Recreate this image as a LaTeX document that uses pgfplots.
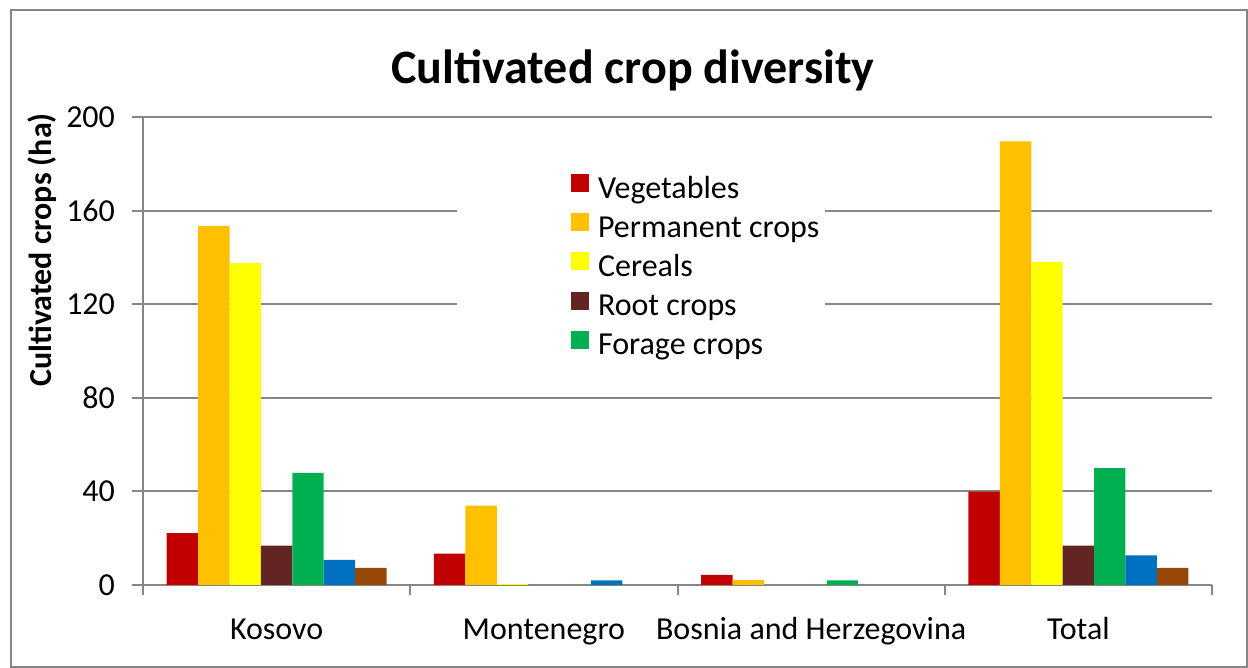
\documentclass[border=0pt]{standalone}
\usepackage{pgfplots}
\pgfplotsset{compat=1.18}
\usepackage{fontspec}
\setmainfont{Carlito}
\definecolor{cVeg}{HTML}{C00000}
\definecolor{cPerm}{HTML}{FFC000}
\definecolor{cCer}{HTML}{FFFF00}
\definecolor{cRoot}{HTML}{632523}
\definecolor{cFor}{HTML}{00B050}
\definecolor{cBlue}{HTML}{0070C0}
\definecolor{cBrown}{HTML}{974806}
\definecolor{axgray}{HTML}{868686}
\begin{document}
\begin{tikzpicture}[x=1pt,y=1pt]
\useasboundingbox (-71.5,-41.5) rectangle (552.5,292.5);
\begin{axis}[
  scale only axis, width=534.5pt, height=234pt,
  at={(0,0)}, anchor=south west,
  xmin=-0.5, xmax=3.5, ymin=0, ymax=200,
  ybar=0pt, bar width=15.7pt,
  xtick={0,1,2,3},
  xticklabels={Kosovo,Montenegro,Bosnia and Herzegovina,Total},
  minor xtick={-0.5,0.5,1.5,2.5,3.5},
  ytick={0,40,...,200},
  ymajorgrids, major grid style={axgray, line width=1pt},
  axis x line*=bottom, axis y line*=left,
  axis line style={-, axgray, line width=1pt},
  tick style={axgray, line width=1pt},
  major x tick style={draw=none},
  tick align=outside, major tick length=5.5pt, minor tick length=5pt,
  ticklabel style={font=\fontsize{16}{19}\selectfont, text=black},
  /pgf/number format/assume math mode=true,
  xticklabel style={anchor=base, yshift=-21.5pt},
  yticklabel style={xshift=-5pt},
  ylabel={Cultivated crops (ha)},
  ylabel style={font=\fontsize{16}{19}\selectfont\bfseries, at={(rel axis cs:-0.0945,0.716)}, anchor=center},
  legend entries={Vegetables,Permanent crops,Cereals,Root crops,Forage crops},
  legend image code/.code={\fill[#1] (0pt,-1pt) rectangle (9pt,8pt);},
  legend style={at={(rel axis cs:0.4004,0.878)}, anchor=north west, draw=none, fill=none,
    inner sep=0pt, outer sep=0pt, row sep=4.1pt, column sep=4.5pt,
    font=\fontsize{16}{19}\selectfont,
    nodes={inner sep=0pt, text height=11.5pt, text depth=3.5pt}},
  legend cell align=left,
]
\fill[white] (rel axis cs:0.2937,0.47) rectangle (rel axis cs:0.638,0.9);
\addplot[fill=cVeg, draw=none] coordinates {(0,22.2) (1,13.4) (2,4.3) (3,39.9)};
\addplot[fill=cPerm, draw=none] coordinates {(0,153.5) (1,33.9) (2,2.1) (3,189.6)};
\addplot[fill=cCer, draw=none] coordinates {(0,137.5) (1,0.5) (3,138)};
\addplot[fill=cRoot, draw=none] coordinates {(0,16.8) (3,16.8)};
\addplot[fill=cFor, draw=none] coordinates {(0,47.9) (2,2.0) (3,49.9)};
\addplot[fill=cBlue, draw=none] coordinates {(0,10.7) (1,2.0) (3,12.7)};
\addplot[fill=cBrown, draw=none] coordinates {(0,7.3) (3,7.3)};
\end{axis}
\node[anchor=base, font=\fontsize{24}{29}\selectfont\bfseries] at (245,250.5) {Cultivated crop diversity};
\draw[axgray, line width=1pt] (-66,-41) rectangle (552,287.5);
\end{tikzpicture}
\end{document}
